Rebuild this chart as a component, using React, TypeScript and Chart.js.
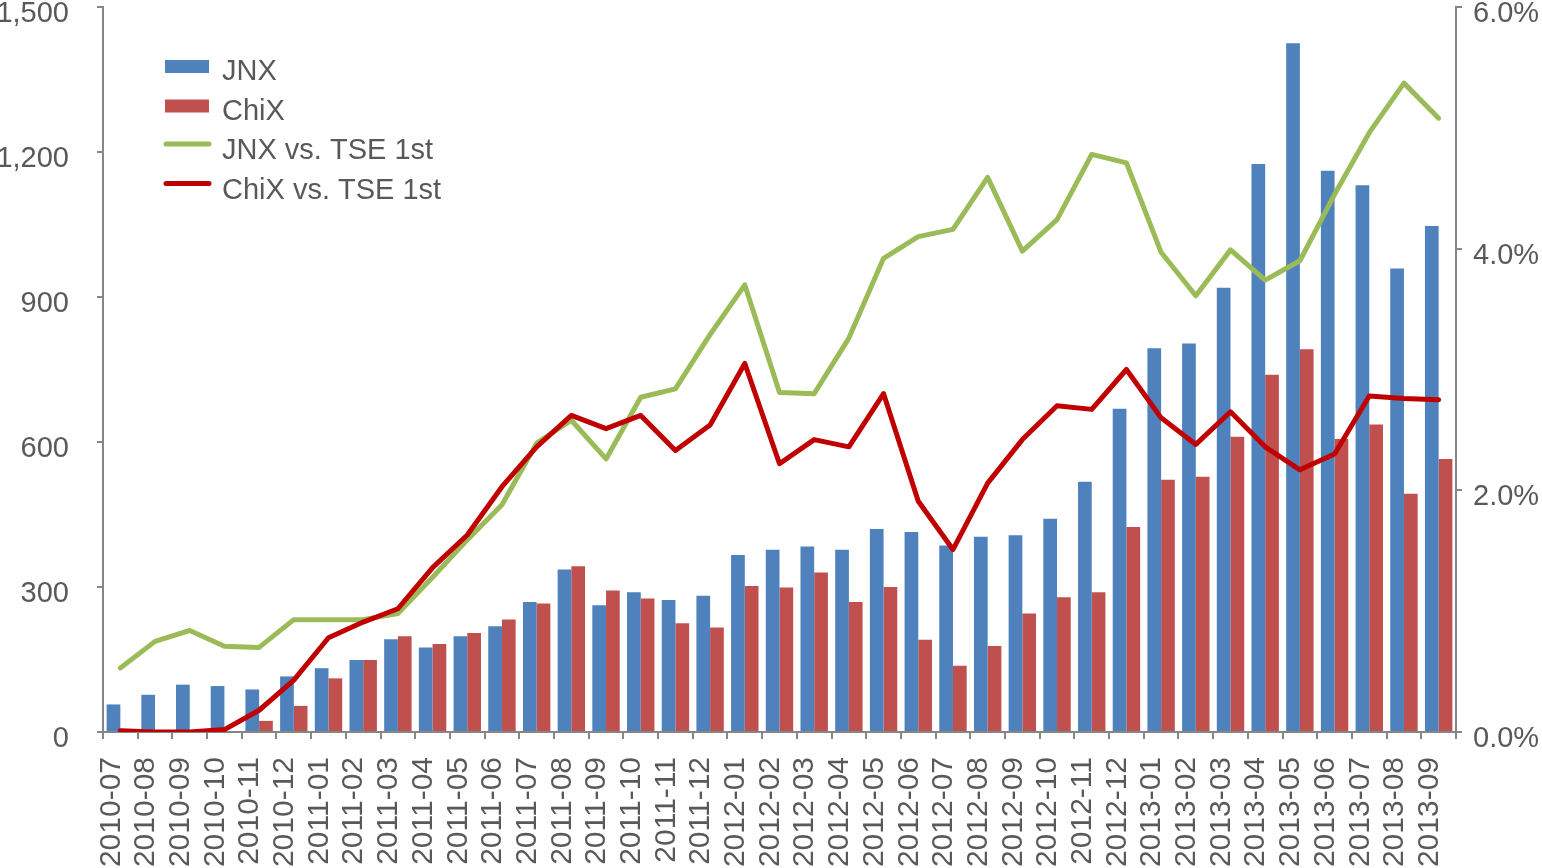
import React, { useEffect, useRef } from "react";
import { Chart, registerables } from "chart.js";

Chart.register(...registerables);

const months = [
  "2010-07", "2010-08", "2010-09", "2010-10", "2010-11", "2010-12",
  "2011-01", "2011-02", "2011-03", "2011-04", "2011-05", "2011-06",
  "2011-07", "2011-08", "2011-09", "2011-10", "2011-11", "2011-12",
  "2012-01", "2012-02", "2012-03", "2012-04", "2012-05", "2012-06",
  "2012-07", "2012-08", "2012-09", "2012-10", "2012-11", "2012-12",
  "2013-01", "2013-02", "2013-03", "2013-04", "2013-05", "2013-06",
  "2013-07", "2013-08", "2013-09",
];

const jnx = [57, 77, 98, 95, 88, 115, 132, 149, 192, 175, 198, 219, 269, 336, 262, 289, 273, 282, 366, 377, 384, 377, 420, 414, 386, 404, 407, 441, 518, 669, 794, 804, 919, 1175, 1425, 1161, 1131, 959, 1047];
const chix = [0, 0, 0, 2, 23, 54, 111, 149, 198, 182, 205, 233, 266, 343, 293, 276, 225, 216, 302, 299, 330, 269, 300, 191, 137, 178, 245, 279, 289, 424, 522, 528, 611, 739, 792, 606, 636, 493, 565];
const jnxPct = [0.53, 0.75, 0.84, 0.71, 0.7, 0.93, 0.93, 0.93, 0.98, 1.28, 1.59, 1.88, 2.39, 2.58, 2.26, 2.77, 2.84, 3.29, 3.7, 2.81, 2.8, 3.26, 3.92, 4.1, 4.16, 4.59, 3.98, 4.24, 4.78, 4.71, 3.97, 3.61, 3.99, 3.74, 3.9, 4.45, 4.96, 5.37, 5.08];
const chixPct = [0.01, 0.0, 0.0, 0.02, 0.18, 0.43, 0.78, 0.91, 1.02, 1.36, 1.63, 2.03, 2.36, 2.62, 2.51, 2.62, 2.33, 2.54, 3.05, 2.22, 2.42, 2.36, 2.8, 1.91, 1.51, 2.06, 2.42, 2.7, 2.67, 3.0, 2.6, 2.38, 2.65, 2.36, 2.17, 2.3, 2.78, 2.76, 2.75];

const leftTicks = [0, 300, 600, 900, 1200, 1500];
const rightTicks = [0, 2, 4, 6];

const FONT = "'Liberation Sans', Arial, Helvetica, sans-serif";
const TEXT = "#595959";
const AXIS = "#868686";

const legendPlugin = {
  id: "customLegend",
  afterDraw(chart: any) {
    const ctx = chart.ctx;
    const items = chart.data.datasets.map((d: any) => ({
      label: d.label,
      type: d.type,
      color: d.type === "line" ? d.borderColor : d.backgroundColor,
    }));
    const x0 = 165;
    const rows = [71, 110.5, 150, 189.5];
    ctx.save();
    ctx.font = `29px ${FONT}`;
    ctx.textBaseline = "middle";
    ctx.textAlign = "left";
    items.forEach((it: any, i: number) => {
      const y = rows[i];
      const sy = y - 5;
      if (it.type === "line") {
        ctx.strokeStyle = it.color;
        ctx.lineWidth = 5;
        ctx.lineCap = "round";
        ctx.beginPath();
        ctx.moveTo(x0 + 1, sy - 1);
        ctx.lineTo(x0 + 44, sy - 1);
        ctx.stroke();
      } else {
        ctx.fillStyle = it.color;
        ctx.fillRect(x0, sy - 6, 44, 13);
      }
      ctx.fillStyle = TEXT;
      ctx.fillText(it.label, 222, y + 1);
    });
    ctx.restore();
  },
};

export default function App() {
  const ref = useRef<HTMLCanvasElement | null>(null);

  useEffect(() => {
    if (!ref.current) return;
    const chart = new Chart(ref.current, {
      type: "bar",
      data: {
        labels: months,
        datasets: [
          {
            type: "bar",
            label: "JNX",
            data: jnx,
            backgroundColor: "#4F81BD",
            yAxisID: "y",
            order: 3,
            categoryPercentage: 0.79,
            barPercentage: 1.0,
          },
          {
            type: "bar",
            label: "ChiX",
            data: chix,
            backgroundColor: "#C0504D",
            yAxisID: "y",
            order: 3,
            categoryPercentage: 0.79,
            barPercentage: 1.0,
          },
          {
            type: "line",
            label: "JNX vs. TSE 1st",
            data: jnxPct,
            borderColor: "#9BBB59",
            backgroundColor: "#9BBB59",
            borderWidth: 5,
            pointRadius: 0,
            tension: 0,
            borderJoinStyle: "round",
            borderCapStyle: "round",
            yAxisID: "y1",
            order: 2,
          },
          {
            type: "line",
            label: "ChiX vs. TSE 1st",
            data: chixPct,
            borderColor: "#C00000",
            backgroundColor: "#C00000",
            borderWidth: 5,
            pointRadius: 0,
            tension: 0,
            borderJoinStyle: "round",
            borderCapStyle: "round",
            yAxisID: "y1",
            order: 1,
          },
        ] as any,
      },
      options: {
        animation: false,
        responsive: false,
        maintainAspectRatio: false,
        layout: { padding: { top: 7, left: 0, right: 0, bottom: 0 } },
        plugins: {
          legend: { display: false },
          tooltip: { enabled: false },
        },
        scales: {
          x: {
            offset: true,
            grid: {
              display: true,
              offset: true,
              drawOnChartArea: false,
              drawTicks: true,
              tickLength: 7,
              color: AXIS,
              lineWidth: 2,
            },
            border: { display: true, color: AXIS, width: 2 },
            ticks: {
              autoSkip: false,
              maxRotation: 90,
              minRotation: 90,
              padding: 18,
              labelOffset: -9,
              color: TEXT,
              font: { family: FONT, size: 30 },
            },
            afterFit(scale: any) {
              scale.height = 136;
              scale.paddingLeft = 0;
              scale.paddingRight = 0;
            },
          },
          y: {
            position: "left",
            min: 0,
            max: 1500,
            afterBuildTicks(scale: any) {
              scale.ticks = leftTicks.map((v) => ({ value: v }));
            },
            grid: {
              display: true,
              drawOnChartArea: false,
              drawTicks: true,
              tickLength: 6,
              color: AXIS,
              lineWidth: 2,
            },
            border: { display: true, color: AXIS, width: 2 },
            ticks: {
              padding: 28,
              labelOffset: 7,
              color: TEXT,
              font: { family: FONT, size: 29 },
              callback: (v: any) => Number(v).toLocaleString("en-US"),
            },
            afterFit(scale: any) {
              scale.width = 103;
              scale.paddingTop = 0;
              scale.paddingBottom = 0;
            },
          },
          y1: {
            position: "right",
            min: 0,
            max: 6,
            afterBuildTicks(scale: any) {
              scale.ticks = rightTicks.map((v) => ({ value: v }));
            },
            grid: {
              display: true,
              drawOnChartArea: false,
              drawTicks: true,
              tickLength: 6,
              color: AXIS,
              lineWidth: 2,
            },
            border: { display: true, color: AXIS, width: 2 },
            ticks: {
              padding: 11,
              labelOffset: 7,
              color: TEXT,
              font: { family: FONT, size: 29 },
              callback: (v: any) => Number(v).toFixed(1) + "%",
            },
            afterFit(scale: any) {
              scale.width = 86;
              scale.paddingTop = 0;
              scale.paddingBottom = 0;
            },
          },
        },
      },
      plugins: [legendPlugin],
    });
    return () => chart.destroy();
  }, []);

  return (
    <div style={{ position: "absolute", left: 0, top: 0, width: 1542, height: 868, background: "#fff" }}>
      <canvas ref={ref} width={1542} height={868} style={{ display: "block" }} />
    </div>
  );
}
